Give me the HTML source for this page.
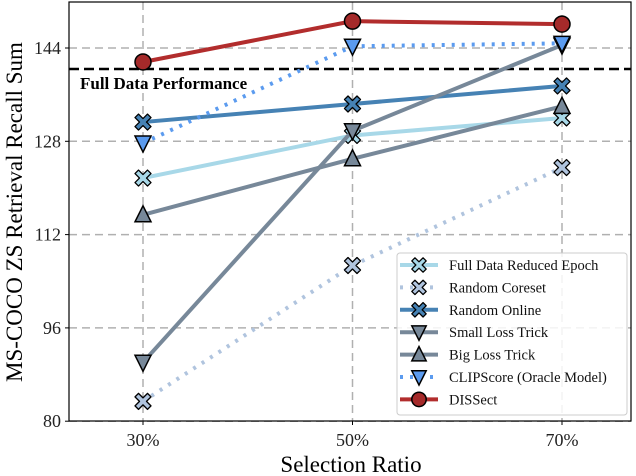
<!DOCTYPE html>
<html><head><meta charset="utf-8"><style>
body{margin:0;background:#fff}
svg{display:block;font-family:"Liberation Serif",serif}
</style></head><body>
<svg id="chart" width="636" height="476"></svg>
<script>
const categories=["30%","50%","70%"];
const yTicks=[80,96,112,128,144];
const fullDataPerf=140.4;
const seriesNames=["Full Data Reduced Epoch","Random Coreset","Random Online","Small Loss Trick","Big Loss Trick","CLIPScore (Oracle Model)","DISSect"];
const fullDataReduced=[121.7,129.0,132.0];
const randomCoreset=[83.4,106.7,123.5];
const randomOnline=[131.3,134.4,137.5];
const smallLoss=[90.1,129.8,144.5];
const bigLoss=[115.4,125.0,134.0];
const clipScore=[127.7,144.3,144.8];
const dissect=[141.6,148.6,148.1];

const L=69,R=631,T=2,B=421;
const xPos=[143,351,562];
function x(i){return xPos[0]+(xPos[2]-xPos[0])*i/(categories.length-1);}
function y(v){return 48+(144-v)*(93.3/16);}
const svg=document.getElementById('chart');
const NS='http://www.w3.org/2000/svg';
function el(t,a,p){const e=document.createElementNS(NS,t);for(const k in a)e.setAttribute(k,a[k]);(p||svg).appendChild(e);return e;}

yTicks.forEach(v=>{const g=el('line',{x1:L,x2:R,y1:y(v),y2:y(v),stroke:'#b0b0b0','stroke-width':1.5,'stroke-dasharray':'8,5'});

const t=el('text',{x:L-8,y:y(v)+6,'text-anchor':'end','font-size':18,fill:'#222'});t.textContent=v;

el('line',{x1:L-4,x2:L,y1:y(v),y2:y(v),stroke:'#000'});});
categories.forEach((c,i)=>{const g=el('line',{x1:x(i),x2:x(i),y1:T,y2:B,stroke:'#b0b0b0','stroke-width':1.5,'stroke-dasharray':'8,5'});

el('line',{x1:x(i),x2:x(i),y1:B,y2:B+4,stroke:'#000'});
const t=el('text',{x:x(i),y:B+25,'text-anchor':'middle','font-size':18,fill:'#222'});t.textContent=c;
});

const fl=el('line',{x1:L,x2:R,y1:y(fullDataPerf),y2:y(fullDataPerf),stroke:'#000','stroke-width':2.5,'stroke-dasharray':'10,5'});

const ft=el('text',{x:80,y:y(fullDataPerf)+20,'font-size':17,'font-weight':'bold'});ft.textContent='Full Data Performance';


const styles=[
 {d:fullDataReduced,c:'#a8d8e8',m:'x',fill:'#a8d8e8',dash:null},
 {d:randomCoreset,c:'#b0c4de',m:'x',fill:'#b0c4de',dash:'3,7'},
 {d:randomOnline,c:'#4682b4',m:'x',fill:'#4682b4',dash:null},
 {d:smallLoss,c:'#778899',m:'v',fill:'#778899',dash:null},
 {d:bigLoss,c:'#778899',m:'^',fill:'#778899',dash:null},
 {d:clipScore,c:'#5b9bef',m:'v',fill:'#5b9bef',dash:'3,7'},
 {d:dissect,c:'#b22d2d',m:'o',fill:'#a52a2a',dash:null}];
function marker(type,cx,cy,fill,g,s){s=s||1;
 if(type==='o')return el('circle',{cx,cy,r:8*s,fill,stroke:'#000','stroke-width':1.5},g);
 if(type==='x'){const a=3.5*s,b=8*s;
  const p=[[-b,-b+a],[-b+a,-b],[0,-a],[b-a,-b],[b,-b+a],[a,0],[b,b-a],[b-a,b],[0,a],[-b+a,b],[-b,b-a],[-a,0]].map(q=>(cx+q[0])+','+(cy+q[1])).join(' ');
  return el('polygon',{points:p,fill,stroke:'#000','stroke-width':1.3,'stroke-linejoin':'round'},g);}
 const d=type==='v'?1:-1;
 return el('polygon',{points:`${cx-8*s},${cy-7*d*s} ${cx+8*s},${cy-7*d*s} ${cx},${cy+9*d*s}`,fill,stroke:'#000','stroke-width':1.5},g);}
styles.forEach((s,k)=>{const g=el('g',{});
 
 
 el('polyline',{points:s.d.map((v,i)=>x(i)+','+y(v)).join(' '),fill:'none',stroke:s.c,'stroke-width':4,'stroke-dasharray':s.dash||'none'},g);
 s.d.forEach((v,i)=>{const m=marker(s.m,x(i),y(v),s.fill,g);});});

el('rect',{x:L,y:T,width:R-L,height:B-T,fill:'none',stroke:'#000','stroke-width':1.2});

const lg=el('g',{});
el('rect',{x:397,y:253,width:230,height:162,rx:3,fill:'#fff','fill-opacity':0.85,stroke:'#ccc'},lg);
styles.forEach((s,k)=>{const yy=265+k*22.4;const e=el('g',{},lg);
 
 el('line',{x1:400,x2:438,y1:yy,y2:yy,stroke:s.c,'stroke-width':4,'stroke-dasharray':s.dash||'none'},e);
 marker(s.m,419,yy,s.fill,e,0.9);
 const t=el('text',{x:449,y:yy+5,'font-size':14.5,fill:'#111'},e);t.textContent=seriesNames[k];});

const xt=el('text',{x:351,y:472,'text-anchor':'middle','font-size':23});xt.textContent='Selection Ratio';

const yt=el('text',{x:0,y:0,'text-anchor':'middle','font-size':23,transform:'translate(22,212) rotate(-90)'});yt.textContent='MS-COCO ZS Retrieval Recall Sum';

</script>
</body></html>
